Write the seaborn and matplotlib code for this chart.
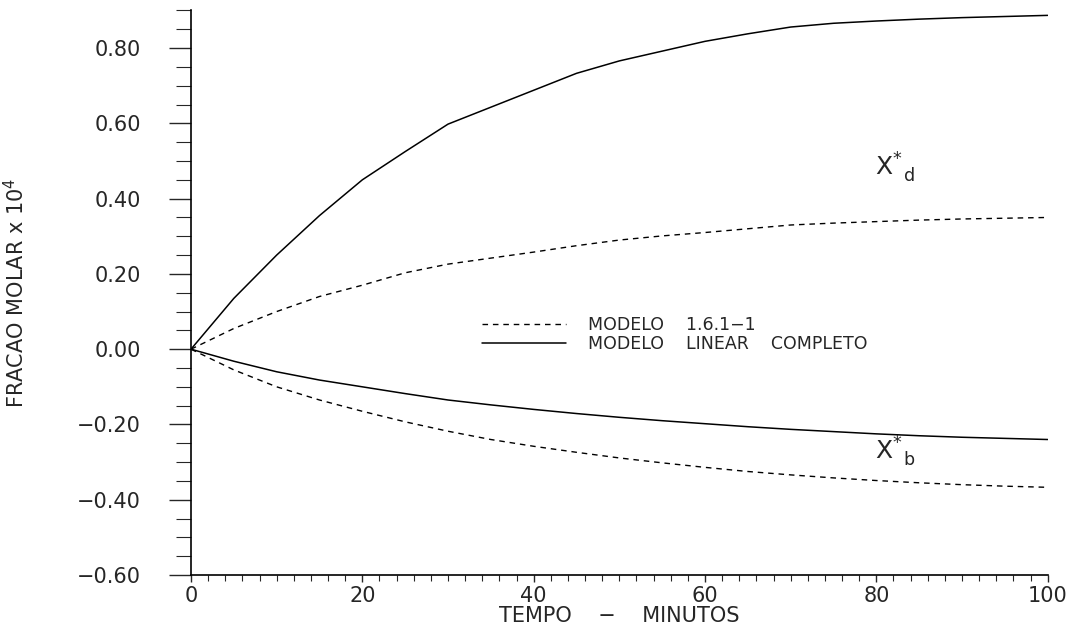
import numpy as np
import pandas as pd
import seaborn as sns
import matplotlib.pyplot as plt
from matplotlib.ticker import MultipleLocator, FuncFormatter

# valores (fracao molar x 10^4)
tempo = [0, 5, 10, 15, 20, 25, 30, 35, 40, 45, 50, 55, 60, 65, 70, 75, 80, 85, 90, 95, 100]
xd_linear = [0, 0.135, 0.25, 0.355, 0.45, 0.525, 0.598, 0.643, 0.688, 0.733, 0.766,
             0.792, 0.818, 0.838, 0.856, 0.866, 0.872, 0.877, 0.881, 0.884, 0.887]
xd_modelo = [0, 0.055, 0.10, 0.14, 0.17, 0.203, 0.226, 0.242, 0.258, 0.275, 0.29,
             0.301, 0.31, 0.32, 0.33, 0.335, 0.339, 0.343, 0.346, 0.348, 0.35]
xb_linear = [0, -0.032, -0.06, -0.082, -0.10, -0.118, -0.135, -0.148, -0.16, -0.171, -0.181,
             -0.19, -0.198, -0.206, -0.213, -0.219, -0.225, -0.23, -0.234, -0.237, -0.24]
xb_modelo = [0, -0.055, -0.10, -0.135, -0.165, -0.193, -0.218, -0.24, -0.258, -0.274, -0.289,
             -0.302, -0.314, -0.325, -0.334, -0.342, -0.349, -0.355, -0.36, -0.364, -0.367]

lbl_modelo = "MODELO    1.6.1\u22121"
lbl_linear = "MODELO    LINEAR    COMPLETO"

df = pd.DataFrame({'t': tempo, 'xd_lin': xd_linear, 'xd_mod': xd_modelo,
                   'xb_lin': xb_linear, 'xb_mod': xb_modelo})

sns.set_style('white')
plt.rcParams['font.family'] = ['DejaVu Sans']
plt.rcParams['mathtext.fontset'] = 'dejavusans'
plt.rcParams['mathtext.default'] = 'regular'

fig = plt.figure(figsize=(10.79, 6.35), dpi=100)
ax = fig.add_axes([0.177, 0.0945, 0.794, 0.889])

dash = (0, (4, 3.5))
sns.lineplot(data=df, x='t', y='xd_mod', ax=ax, color='k', lw=1.0, linestyle=dash, label=lbl_modelo)
sns.lineplot(data=df, x='t', y='xd_lin', ax=ax, color='k', lw=1.1, label=lbl_linear)
sns.lineplot(data=df, x='t', y='xb_mod', ax=ax, color='k', lw=1.0, linestyle=dash, legend=False)
sns.lineplot(data=df, x='t', y='xb_lin', ax=ax, color='k', lw=1.1, legend=False)

ax.set_xlim(0, 100)
ax.set_ylim(-0.6, 0.9)
ax.spines['top'].set_visible(False)
ax.spines['right'].set_visible(False)
for s in ['left', 'bottom']:
    ax.spines[s].set_color('k')
    ax.spines[s].set_linewidth(1.2)

ax.xaxis.set_major_locator(MultipleLocator(20))
ax.xaxis.set_minor_locator(MultipleLocator(2))
ax.yaxis.set_major_locator(MultipleLocator(0.2))
ax.yaxis.set_minor_locator(MultipleLocator(0.05))
ax.yaxis.set_major_formatter(FuncFormatter(lambda v, p: ('%.2f' % v).replace('-', '\u2212') if v <= 0.81 else ''))

ax.tick_params(axis='y', which='major', direction='out', length=16, width=1, pad=20, labelsize=15, left=True)
ax.tick_params(axis='y', which='minor', direction='out', length=11, width=0.8, left=True)
ax.tick_params(axis='x', which='major', direction='out', length=5, width=1, pad=3, labelsize=15, bottom=True)
ax.tick_params(axis='x', which='minor', direction='out', length=4, width=0.8, bottom=True)

ax.set_xlabel("TEMPO    \u2212    MINUTOS", fontsize=15, labelpad=0)
ax.set_ylabel("FRACAO MOLAR x 10$^4$", fontsize=15)
ax.yaxis.set_label_coords(-0.19, 0.5)

ax.text(79.8, 0.461, "X$^{*}_{\\ \\ d}$", fontsize=18, ha='left', va='baseline')
ax.text(79.8, -0.293, "X$^{*}_{\\ \\ b}$", fontsize=18, ha='left', va='baseline')

leg = ax.legend(loc='center left', bbox_to_anchor=(0.34, 0.426), frameon=False, fontsize=12.5,
                handlelength=4.8, handletextpad=1.3, labelspacing=0.1, borderaxespad=0, borderpad=0)

fig.savefig('out.png', dpi=100)
